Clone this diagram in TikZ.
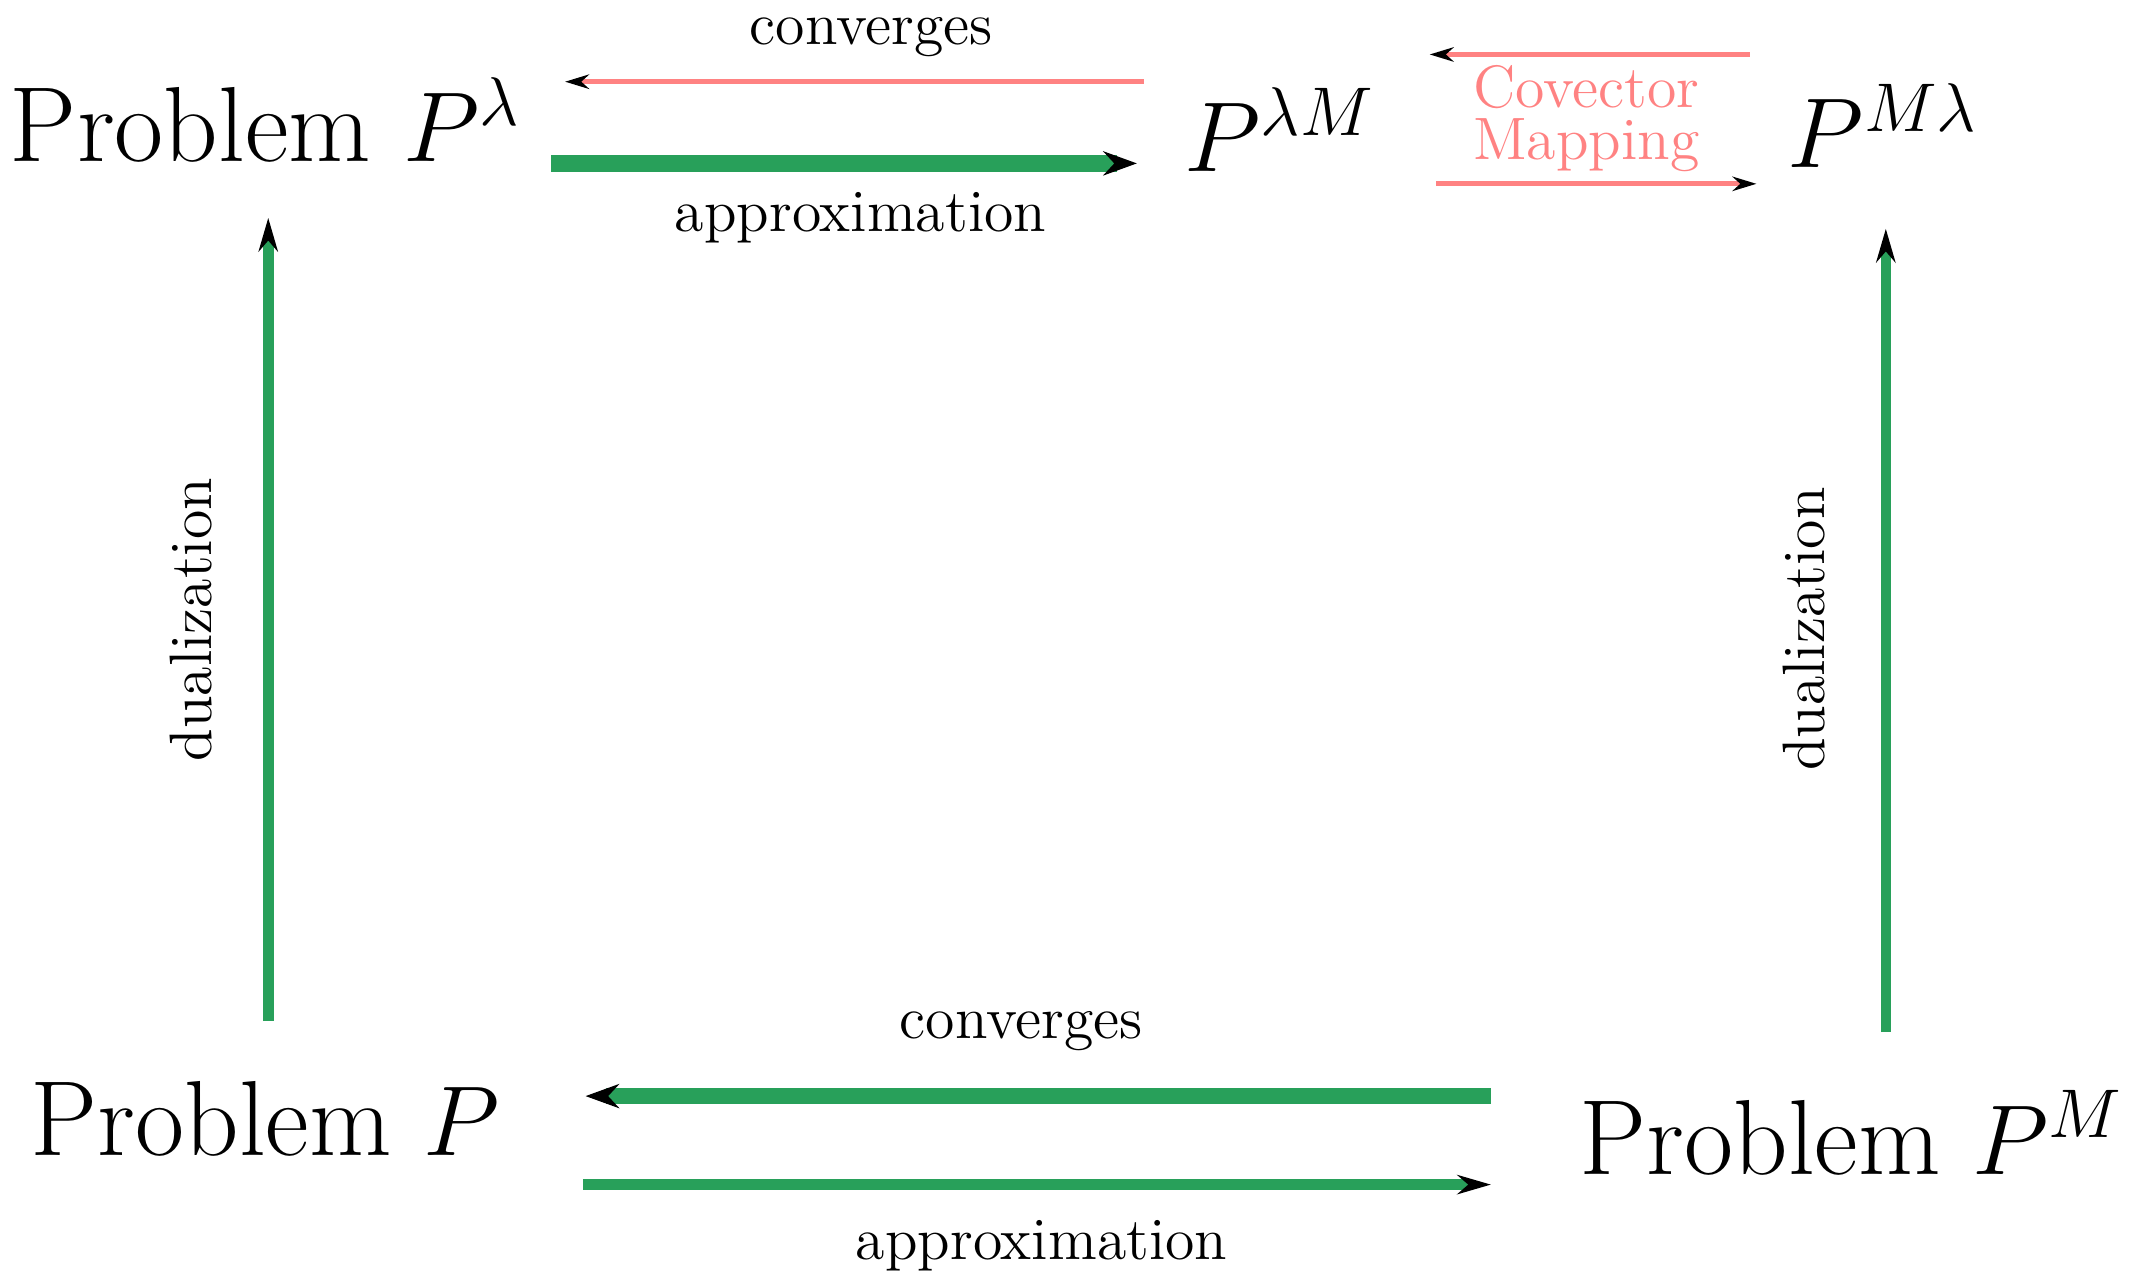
\documentclass[tikz,border=0pt]{standalone}
\usetikzlibrary{arrows.meta}
\definecolor{gr}{RGB}{40,160,90}
\definecolor{pk}{RGB}{255,130,130}
\begin{document}
\begin{tikzpicture}[x=0.01cm,y=-0.01cm,
 big/.style={font=\fontsize{22.3}{27}\selectfont,inner sep=0pt},
 lab/.style={font=\fontsize{12.5}{15}\selectfont,inner sep=0pt},
 ga/.style={gr,line width=2.2pt,-{Stealth[black,length=7pt,width=4pt]}},
 gb/.style={gr,line width=3.5pt,-{Stealth[black,length=7pt,width=5pt]}},
 ra/.style={pk,line width=1pt,-{Stealth[black,length=5pt,width=3pt]}}]
\useasboundingbox (0,0) rectangle (1568,942);
\node[big] (pl) at (195,88) {Problem $P^{\lambda}$};
\node[big] (plm) at (940,95) {$P^{\lambda M}$};
\node[big] (pml) at (1383,92) {$P^{M\lambda}$};
\node[big] (p) at (195,822) {Problem $P$};
\node[big] (pm) at (1360,832) {Problem $P^{M}$};
\coordinate (a1) at (840,60); \coordinate (a2) at (415,60);
\coordinate (b1) at (405,120); \coordinate (b2) at (835,120);
\coordinate (c1) at (1285,40); \coordinate (c2) at (1050,40);
\coordinate (d1) at (1055,135); \coordinate (d2) at (1290,135);
\coordinate (e1) at (197,750); \coordinate (e2) at (197,160);
\coordinate (f1) at (1385,758); \coordinate (f2) at (1385,168);
\coordinate (g1) at (1095,805); \coordinate (g2) at (430,805);
\coordinate (h1) at (428,870); \coordinate (h2) at (1095,870);
\draw[ra] (a1) -- (a2);
\draw[gb] (b1) -- (b2);
\draw[ra] (c1) -- (c2);
\draw[ra] (d1) -- (d2);
\draw[ga] (e1) -- (e2);
\draw[ga] (f1) -- (f2);
\draw[gb] (g1) -- (g2);
\draw[ga] (h1) -- (h2);
\node[lab] (l1) at (640,27) {converges};
\node[lab] (l2) at (632,160) {approximation};
\node[lab,text=pk,align=center,font=\fontsize{12.5}{11}\selectfont] (l3) at (1165,87) {Covector\\Mapping};
\node[lab,rotate=90] (l4) at (140,455) {dualization};
\node[lab,rotate=90] (l5) at (1325,462) {dualization};
\node[lab] (l6) at (750,757) {converges};
\node[lab] (l7) at (765,915) {approximation};
\end{tikzpicture}
\end{document}
